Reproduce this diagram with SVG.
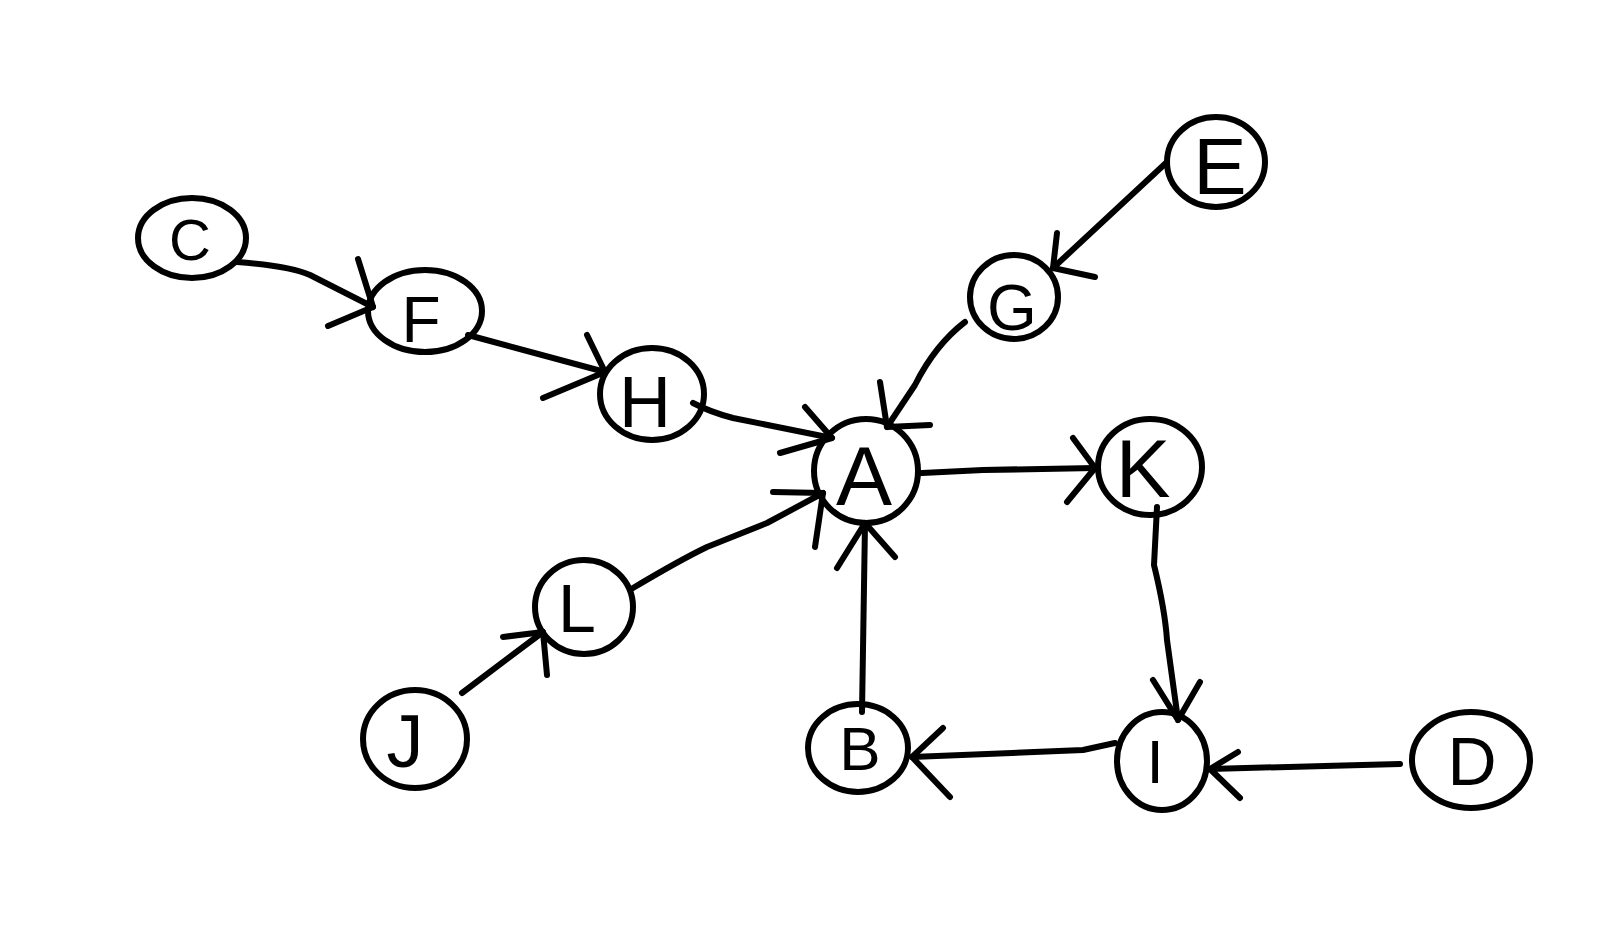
<svg xmlns="http://www.w3.org/2000/svg" width="1621" height="925" viewBox="0 0 1621 925">
<style>
.n{fill:none;stroke:#000;stroke-width:6;}
.t{font-family:"Liberation Sans",Arial,sans-serif;fill:#000;text-anchor:middle;}
.c{fill:none;stroke:#000;stroke-width:6;stroke-linecap:round;stroke-linejoin:round;}
</style>
<rect width="1621" height="925" fill="#fff"/>
<g id="connectors">
<path class="c" d="M237,262 Q290,266 310,275 L373,307"/>
<path class="c" d="M358,259 L373,307 L328,326"/>
<path class="c" d="M468,335 L605,372"/>
<path class="c" d="M587,335 L605,372 L543,398"/>
<path class="c" d="M693,403 Q710,412 733,418 L832,438"/>
<path class="c" d="M805,407 L832,438 L780,453"/>
<path class="c" d="M965,322 Q935,345 915,385 L887,427"/>
<path class="c" d="M880,382 L887,427 L930,425"/>
<path class="c" d="M1167,162 L1053,268"/>
<path class="c" d="M1057,233 L1053,268 L1095,277"/>
<path class="c" d="M633,588 Q680,560 707,547 L767,523 L823,493"/>
<path class="c" d="M773,492 L823,493 L815,547"/>
<path class="c" d="M462,693 L543,632"/>
<path class="c" d="M503,637 L543,632 L547,675"/>
<path class="c" d="M862,712 L865,523"/>
<path class="c" d="M837,568 L865,523 L895,557"/>
<path class="c" d="M922,473 L983,470 L1095,468"/>
<path class="c" d="M1073,438 L1095,468 L1067,502"/>
<path class="c" d="M1157,507 L1154,565 Q1165,610 1167,640 L1178,720"/>
<path class="c" d="M1153,680 L1178,720 L1200,682"/>
<path class="c" d="M1115,743 L1083,750 L912,757"/>
<path class="c" d="M943,728 L912,757 L950,797"/>
<path class="c" d="M1400,764 L1210,769"/>
<path class="c" d="M1238,752 L1210,769 L1240,798"/>
</g>
<g id="C"><ellipse class="n" cx="192" cy="238" rx="54" ry="40"/><text class="t" x="190" y="260" font-size="58">C</text></g>
<g id="F"><ellipse class="n" cx="425" cy="311" rx="57" ry="41"/><text class="t" x="421" y="342" font-size="64">F</text></g>
<g id="H"><ellipse class="n" cx="652" cy="394" rx="52" ry="46"/><text class="t" x="645" y="427" font-size="72">H</text></g>
<g id="A"><ellipse class="n" cx="866" cy="471" rx="52" ry="52"/><text class="t" x="864" y="505" font-size="84">A</text></g>
<g id="G"><ellipse class="n" cx="1014" cy="297" rx="44" ry="42"/><text class="t" x="1012" y="330" font-size="64">G</text></g>
<g id="E"><ellipse class="n" cx="1216" cy="162" rx="49" ry="45"/><text class="t" x="1220" y="194" font-size="80">E</text></g>
<g id="K"><ellipse class="n" cx="1150" cy="467" rx="52" ry="48"/><text class="t" x="1143" y="497" font-size="82">K</text></g>
<g id="L"><ellipse class="n" cx="584" cy="607" rx="49" ry="47"/><text class="t" x="577" y="632" font-size="68">L</text></g>
<g id="J"><ellipse class="n" cx="415" cy="739" rx="52" ry="49"/><text class="t" x="405" y="767" font-size="74">J</text></g>
<g id="B"><ellipse class="n" cx="858" cy="748" rx="50" ry="44"/><text class="t" x="860" y="770" font-size="62">B</text></g>
<g id="I"><ellipse class="n" cx="1162" cy="761" rx="45" ry="49"/><text class="t" x="1155" y="783" font-size="62">I</text></g>
<g id="D"><ellipse class="n" cx="1471" cy="760" rx="59" ry="48"/><text class="t" x="1472" y="785" font-size="68">D</text></g>
</svg>
